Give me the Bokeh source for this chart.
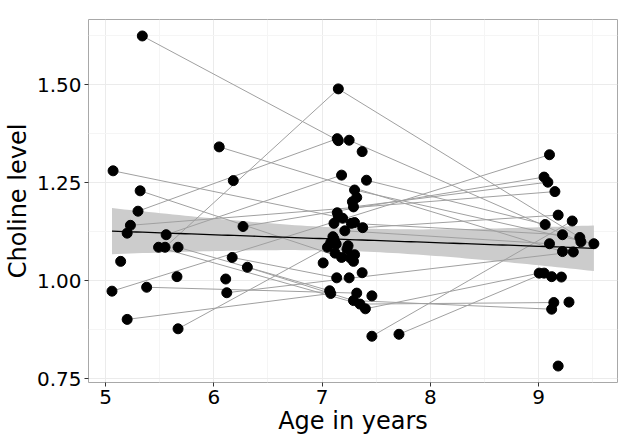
import numpy as np
from bokeh.plotting import figure
from bokeh.models import Range1d, FixedTicker, PrintfTickFormatter
from bokeh.embed import file_html
from bokeh.resources import INLINE

# ---- data ----
subject = [1, 1, 2, 2, 3, 3, 4, 5, 5, 6, 6, 7, 7, 8, 9, 9, 10, 10, 11, 11, 11,
           12, 12, 12, 13, 13, 14, 15, 15, 16, 16, 16, 17, 18, 19, 19, 20, 20,
           21, 21, 22, 22, 23, 23, 24, 24, 25, 26, 26, 27, 27, 28, 29, 30, 30,
           31, 32, 33, 34, 34, 35, 36, 36, 37, 37, 38, 39, 40, 41, 42, 43, 44,
           45, 46, 47, 48, 49, 50, 51, 52, 53, 53, 54, 54, 55, 55, 56, 57, 58, 59]
age = [5.34, 7.15, 6.05, 9.22, 5.07, 7.15, 6.18, 5.32, 7.18, 5.30, 7.14, 5.23, 9.15,
       5.20, 5.56, 7.18, 6.27, 9.05, 5.49, 7.35, 9.14, 5.55, 7.15, 9.38, 5.67, 7.07,
       5.14, 6.17, 7.135, 6.31, 7.29, 9.12, 5.66, 6.11, 6.12, 9.32, 5.67, 7.05,
       5.06, 9.10, 5.38, 7.32, 5.20, 7.08, 7.25, 9.39, 7.37, 7.41, 9.06, 7.30, 9.51,
       7.32, 7.28, 7.29, 9.085, 7.14, 7.19, 7.11, 7.27, 9.22, 7.30, 7.375, 9.18,
       7.21, 9.10, 7.10, 7.11, 7.12, 7.08, 7.13, 7.24, 7.23, 7.12, 7.30, 7.26, 7.29,
       7.01, 7.37, 7.25, 7.46, 7.40, 9.005, 7.46, 9.31, 7.71, 9.05, 9.12, 9.21, 9.28, 9.18]
choline = [1.625, 1.358, 1.342, 1.075, 1.281, 1.163, 1.256, 1.230, 1.060, 1.178, 1.363,
           1.142, 1.228, 1.122, 1.118, 1.270, 1.139, 1.265, 1.086, 0.941, 0.945, 1.086,
           1.490, 1.111, 1.086, 0.975, 1.050, 1.060, 1.008, 1.035, 0.950, 0.928, 1.011,
           1.005, 0.970, 1.074, 0.878, 1.086, 0.974, 1.322, 0.984, 0.969, 0.902, 0.968,
           1.359, 1.100, 1.330, 1.257, 1.144, 1.232, 1.095, 1.213, 1.202, 1.189, 1.252,
           1.174, 1.160, 1.147, 1.147, 1.118, 1.149, 1.136, 1.168, 1.128, 1.095, 1.113,
           1.107, 1.098, 1.098, 1.094, 1.090, 1.081, 1.071, 1.067, 1.059, 1.050, 1.046,
           1.021, 1.008, 0.962, 0.929, 1.020, 0.859, 1.153, 0.864, 1.020, 1.011, 1.010,
           0.946, 0.783]
x_ticks = [5, 6, 7, 8, 9]
y_ticks = [0.75, 1.00, 1.25, 1.50]
x_label = "Age in years"
y_label = "Choline level"

x = np.array(age)
y = np.array(choline)
sid = np.array(subject)

# lines per subject
xs, ys = [], []
for s in sorted(set(subject)):
    m = sid == s
    if m.sum() > 1:
        order = np.argsort(x[m])
        xs.append(list(x[m][order]))
        ys.append(list(y[m][order]))

# linear fit with 95% confidence band
n = len(x)
b1, b0 = np.polyfit(x, y, 1)
resid = y - (b0 + b1 * x)
s_err = np.sqrt(np.sum(resid ** 2) / (n - 2))
xm = x.mean()
sxx = np.sum((x - xm) ** 2)
gx = np.linspace(x.min(), x.max(), 80)
gy = b0 + b1 * gx
se = s_err * np.sqrt(1.0 / n + (gx - xm) ** 2 / sxx)
t = 1.987
band_x = np.concatenate([gx, gx[::-1]])
band_y = np.concatenate([gy - t * se, (gy + t * se)[::-1]])

p = figure(width=629, height=437, output_backend="svg", toolbar_location=None,
           x_range=Range1d(4.843, 9.728), y_range=Range1d(0.741, 1.667),
           min_border_left=87, min_border_right=12, min_border_top=19, min_border_bottom=50)
p.background_fill_color = "white"
p.border_fill_color = "white"
p.outline_line_color = "#a8a8a8"
p.outline_line_width = 1

p.patch(band_x, band_y, fill_color="#cccccc", line_color=None)
p.multi_line(xs, ys, line_color="#a0a0a0", line_width=1)
p.line(gx, gy, line_color="black", line_width=1.3)
p.scatter(x, y, size=10, fill_color="black", line_color="black")

p.xaxis.ticker = FixedTicker(ticks=x_ticks, minor_ticks=[4.5, 5.5, 6.5, 7.5, 8.5, 9.5])
p.yaxis.ticker = FixedTicker(ticks=y_ticks, minor_ticks=[0.875, 1.125, 1.375, 1.625])
p.yaxis.formatter = PrintfTickFormatter(format="%.2f")
p.xaxis.axis_label = x_label
p.yaxis.axis_label = y_label
for ax in (p.xaxis, p.yaxis):
    ax.axis_line_color = None
    ax.major_tick_line_color = "#333333"
    ax.major_tick_out = 4
    ax.major_tick_in = 0
    ax.minor_tick_line_color = None
    ax.major_label_text_font = "DejaVu Sans"
    ax.major_label_text_font_size = "20px"
    ax.major_label_text_color = "black"
    ax.major_label_standoff = 3
    ax.axis_label_text_font = "DejaVu Sans"
    ax.axis_label_text_font_size = "24px"
    ax.axis_label_text_font_style = "normal"
    ax.axis_label_text_color = "black"
    ax.axis_label_standoff = 2
p.xaxis.axis_label_standoff = 0

p.xgrid.grid_line_color = "#ebebeb"
p.ygrid.grid_line_color = "#ebebeb"
p.xgrid.minor_grid_line_color = "#f5f5f5"
p.ygrid.minor_grid_line_color = "#f5f5f5"

open("out.html", "w").write(file_html(p, INLINE))
